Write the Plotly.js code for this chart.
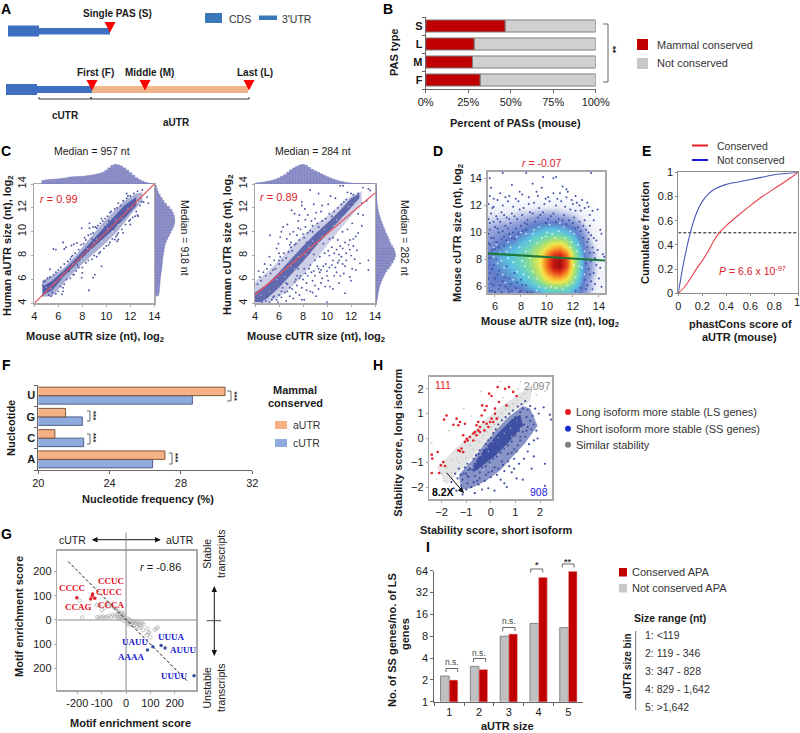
<!DOCTYPE html>
<html>
<head>
<meta charset="utf-8">
<script src="https://cdn.plot.ly/plotly-3.0.1.min.js"></script>
<style>html,body{margin:0;padding:0;background:#fff}#plot{width:800px;height:733px}</style>
</head>
<body>
<div id="plot"></div>
<script>
// B
var pasTypes = ['F', 'M', 'L', 'S'];
var pasConserved = [32, 27.5, 28.5, 46.7];
var pasNotConserved = [68, 72.5, 71.5, 53.3];
var pasTicks = [0, 25, 50, 75, 100];
var pasTickText = ['0%', '25%', '50%', '75%', '100%'];

// C left, aUTR
var aMarginX = [4.75,5,5.25,5.5,5.75,6,6.25,6.5,6.75,7,7.25,7.5,7.75,8,8.25,8.5,8.75,9,9.25,9.5,9.75,10,10.25,10.5,10.75,11,11.25,11.5,11.75,12,12.25,12.5,12.75,13,13.25,13.5,13.75];
var aTopHist = [3.5,4.2,4.5,4.7,5,5.2,5.6,6,6.5,7.2,7.4,7.5,7.6,7.8,8.2,8.6,9,9.6,10.2,11,12,14,16.5,19,20,19.6,18.5,16.5,14,11.5,9,6.5,4.5,3,1.8,1,0.4];
var aRightHist = [3.5,4,4.2,4.5,4.8,5,5.4,5.8,6.2,6.8,7,7.2,7.5,8,8.5,9,9.5,10.2,11.4,13,14.5,16,17.5,19,19.8,20,19.5,18.5,17,14.5,11.5,9,7,5,3.2,2,1];
var aFit = [[4, 4], [14, 14]];
var aBandOuter = [[4.65,5.9],[5.5,6.3],[6.5,7],[7.5,8.1],[8.5,9.3],[9.5,10.5],[10.5,11.6],[11.5,12.6],[12.5,13.2],[13,13.3],[13,12.6],[12,11.4],[11,10.1],[10,9.1],[9,8.2],[8,7.3],[7,6.3],[6,5.2],[5.5,4.6],[4.65,4.55]];
var aBandInner = [[4.7,5.4],[5.5,5.9],[6.5,6.8],[7.5,7.8],[8.5,8.9],[9.5,10],[10.5,11.1],[11.5,12.2],[12.5,12.9],[12.5,12.2],[11.5,11.1],[10.5,10.1],[9.5,9.2],[8.5,8.3],[7.5,7.3],[6.5,6.3],[5.5,5.1],[4.7,4.7]];
var aPoints = [[5.6,8.55],[5.8,8.5],[6.4,9.1],[6.5,8.55],[6.65,8.7],[7.1,8.85],[7.3,8.95],[7.55,9.05],[7.95,10.3],[8.6,10.3],[8.6,10.7],[9.2,10.3],[9.6,7.1],[8.55,5.1],[6.4,5],[6.3,4.75],[7.25,6.4],[8,6.55],[8.9,6.15],[9.05,6.4],[7.95,6.15],[10.7,9.35],[11,9.35],[10.9,9.75],[11.7,13.2],[12.4,11.3],[12.65,11.3],[12.95,12.5],[13.5,12.4],[12,11],[5.3,6.85],
[4.7,4.7],[4.8,5.8],[4.7,5.5],[4.9,5.9],[5.1,6.1],[5.3,6.2],[5.6,6.4],[5.8,6.6],[6,6.8],[6.2,7],[6.5,7.3],[6.8,7.5],[7,7.7],[7.2,8],[7.4,8.2],[7.7,8.5],[7.9,8.9],[8.1,9],[8.3,9.3],[8.5,9.7],[8.7,9.8],[8.9,9.9],[9.1,10.4],[9.3,10.5],[9.5,10.7],[9.7,10.9],[9.9,11.1],[10.1,11.3],[10.4,11.7],[10.7,11.9],[10.9,12],[11.2,12.2],[11.4,12.6],[11.7,12.8],[12,13],[12.3,13.2],[12.6,13.4],[13,13.5],
[5.2,4.7],[5.5,4.9],[5.8,4.8],[6,5],[6.2,5.4],[6.5,5.6],[6.7,6],[7,6.1],[7.3,6.4],[7.5,6.7],[7.7,7],[8,7],[8.3,7.4],[8.5,7.6],[8.8,7.7],[9,8],[9.2,7.9],[9.5,8.3],[9.8,8.6],[10,8.8],[10.3,9.1],[10.5,9.4],[10.8,9.6],[11,9.9],[11.3,10.2],[11.6,10.6],[11.9,10.9],[12.2,11.2],[12.5,11.7],[12.8,12.2],[13.1,12.5],[13.4,12.9],[8.2,8.1],[9.6,9.9],[10.2,10.9],[11.1,11.6],[12.3,12.1],[6.3,6.3],[5.2,5.6],[4.9,5.2],[7.6,7.2],[9.9,10.4],[10.6,10.2],[8.8,9.4],[6.9,6.7],
[9.4,8.2],[10.2,8.9],[10.9,9.2],[11.4,9.9],[12,10.6],[12.6,11.4],[8.9,10.4],[9.6,11.1],[10.3,11.6],[11,12.4],[11.8,13],[5.9,5.9],[5.4,4.6],[6.4,5.3],[7.1,7.9],[8.2,9.5]];
var aWhite = [[5,5.3],[5.4,5.2],[5.7,5.7],[6.3,6.2],[7.2,7.3],[7.9,7.8],[8.7,8.5],[9.2,9.4],[9.6,9.2],[10.1,10.3],[10.5,10],[10.8,11],[11.3,11.1],[11.8,11.9],[12.2,12],[9,9.1],[8.4,8.6],[10.3,9.7],[11,10.6],[12.6,12.5]];

// C right, cUTR
var cMarginX = [4.25,4.5,4.75,5,5.25,5.5,5.75,6,6.25,6.5,6.75,7,7.25,7.5,7.75,8,8.25,8.5,8.75,9,9.25,9.5,9.75,10,10.25,10.5,10.75,11,11.25,11.5,11.75,12,12.25,12.5,12.75,13,13.25,13.5,13.75];
var cTopHist = [1.2,1.5,2,2.6,3.2,4,5,6.2,7.8,9.5,12,14.5,16.5,18,19.5,20,19,17,15,13.5,12,10.5,9,7.5,6.2,5,4,3,2.4,1.8,1.3,0.9,0.6,0.4,0.3,0.2,0.1,0.1,0.1];
var cRightHist = [1,1.5,2,2.5,3.2,4,5,6.2,7.6,9.2,11,13.5,15.5,17.5,19,20,19.5,18.5,17,15,13.5,12.5,11,9.5,8.5,7.2,6,5,4,3,2.2,1.7,1.2,0.9,0.6,0.4,0.3,0.2,0.1];
var cFit = [[4, 4.7], [14, 13.25]];
var cBandOuter = [[4,5.8],[5,6.6],[6,7.6],[7,8.7],[8,9.7],[9,10.6],[10,11.3],[11,12.2],[12,13],[12.9,13.4],[12.9,12.5],[12,11.3],[11,10.1],[10,8.8],[9,7.5],[8,6.3],[7,5.3],[6,4.5],[5,4],[4,4]];
var cBandInner = [[4,4.9],[5,5.6],[6,6.6],[7,7.7],[8,8.8],[9,9.8],[10,10.7],[11,11.7],[12,12.8],[12.7,13.2],[12.7,12.8],[12,12],[11,10.9],[10,9.8],[9,8.7],[8,7.5],[7,6.4],[6,5.3],[5,4.4],[4.5,4.1],[4,4.1]];
var cPoints = [[5.25,9.7],[7.05,11.8],[7.3,11.5],[7.9,12.5],[7.9,12.2],[8.15,11.9],[9,11.1],[9.3,13.2],[8.6,13.5],[11.1,13.85],[11.35,13.85],[13,13.7],[13.45,13.6],[13.6,13.45],[13.45,7.6],[13.45,6.8],[12.5,8.45],[12.75,7.35],[11.5,4.85],[9.85,5.4],[10.25,5.4],[6.35,10.4],[6.2,10],[6.1,9.55],[5.95,9],[5.8,8.6],[6.65,9.4],[7.6,10.9],[8.4,11.4],[8.7,10.9],[9.5,11.7],[10.1,12.3],[11.7,13.3],[7.2,10],[7.5,9.7],[7.8,10.2],[8.2,10.4],[8.8,10.5],[6.9,8.9],[6.4,8.2],[6.1,7.9],[5.6,7.6],[5.3,7.2],[5,6.9],[4.7,6.6],[4.4,6.2],[5.5,6.8],[6,7.3],[6.6,7.8],[7.1,8.4],[7.4,9],[8,9.8],[8.6,10.1],[9.3,10.4],[9.9,11.1],[10.4,11.3],[10.9,12],[11.4,12.5],[12.2,13.1],[12.6,13.2],
[4.6,4.1],[5.2,4.1],[5.8,4.3],[6.2,4.5],[6.6,4.2],[7.2,4.4],[7.7,4.7],[8.1,4.3],[8.6,5],[9.1,4.6],[10,4.1],[6.7,5],[7.1,5.2],[7.5,5.5],[7.9,5.3],[8.3,5.7],[8.8,5.9],[9.3,5.2],[9.6,6.1],[10.1,5.9],[10.6,6.3],[11,5.7],[11.4,6.5],[11.9,6.2],[7.4,6],[7.8,6.3],[8.2,6.5],[8.5,6.9],[8.9,6.7],[9.2,7.1],[9.5,6.8],[9.9,7.3],[10.2,7],[10.5,7.6],[10.9,7.4],[11.2,7.9],[11.6,7.6],[12,8],[12.3,7.7],[9,7.6],[9.4,7.9],[9.8,8.2],[10.1,8.4],[10.4,8.7],[10.8,8.5],[11.1,8.8],[11.5,9.1],[11.9,9.3],[12.4,9.6],[10.9,9.3],[10.5,9.5],[11.3,10],[11.7,10.2],[12.1,10.7],[8.5,8.2],[8.9,8.1],[7.6,6.9],[6.3,5.3],[6.7,5.6],[5.5,4.5],[9.7,9],[10.2,9.4],[12.6,11.5],[13,11.4],[13.3,12.6],[12.9,12.4],[7,9.1],[8.3,9.1],
[4.2,5.6],[4.5,5.9],[4.9,6.3],[5.3,6.5],[5.7,6.9],[6,7.6],[6.3,7.6],[6.8,8.3],[7,8.7],[7.3,8.9],[7.7,9.3],[8.1,9.5],[8.4,9.9],[8.8,10],[9.2,10.7],[9.6,10.9],[10.2,11.5],[10.6,11.7],[11.2,12.3],[11.6,12.7],[12,13.2],
[4.9,4.2],[5.4,4.3],[6,4.7],[6.5,4.9],[6.9,5.3],[7.3,5.8],[7.7,6.1],[8,6],[8.4,6.3],[8.7,6.6],[9,6.3],[9.4,6.6],[9.7,7.1],[10,6.7],[10.4,7.2],[10.7,7],[11,7.6],[11.3,7.3],[11.6,8.2],[11.9,8.5],[12.2,8.8],[10.2,8],[10.6,8.2],[11,8.1],[11.3,8.6],[11.8,8.9],[12.6,9.9],[12.2,9.4],[12.9,10.5],[8.3,5.1],[8.8,4.9],[9.5,5.7],[10.5,5.2],[11.1,6.3],[11.5,7.1],[12.1,6.9],[12.4,6.8],[12,5.9],[9,5.5],[7.4,4.9],[6.9,4.6],[5.9,4.1],[7.9,4.3],[10.8,6.6],[10,6.3],[9.3,6.9],[8.6,7.2],[8.1,6.9],[7.5,6.3],[6.6,5.7],[6.2,5],[5.6,4.6],[5,4.6],
[6,8.2],[5.2,7.9],[4.8,7.3],[4.3,6.7],[6.7,10.6],[6.9,9.8],[7.6,10.3],[8.2,11],[9.1,11.6],[7.7,11.4],[8.9,12.3],[9.6,12.2],[10.7,12.8],[10.3,13]];
var cWhite = [[4.5,4.7],[5.2,5],[5.8,6],[6.5,6.2],[7,7.1],[7.6,7.9],[8.2,8.1],[8.8,9.2],[9.3,9.1],[9.8,10.2],[10.3,10.1],[10.8,11],[11.3,11.2],[11.8,12.1],[12.3,12.4],[6.2,6.6],[7.3,6.9],[8.5,8.7],[9.6,9.6],[10.6,10.5]];

// D
var dGridX = [5.5,6,6.5,7,7.5,8,8.5,9,9.5,10,10.5,11,11.5,12,12.5,13,13.5,14,14.5];
var dGridY = [5.5,6,6.5,7,7.5,8,8.5,9,9.5,10,10.5,11,11.5,12,12.5];
var dDensity = [
[1.5,1.5,1.5,1.5,1.5,1.5,2,2,2.5,3,3,3,3,2.5,2,1.2,0.6,0.3,0.2],
[1.8,1.8,1.8,2,2,2.2,2.6,3,3.6,4.2,4.6,4.6,4.2,3.4,2.4,1.4,0.8,0.4,0.2],
[1.8,2,2,2.2,2.5,2.8,3.2,3.9,4.8,5.8,6.4,6.4,5.8,4.4,2.8,1.6,0.8,0.4,0.3],
[1.8,2,2.2,2.5,2.8,3.2,3.8,4.6,5.6,7,8,8.2,7,5.2,3.2,1.8,1,0.5,0.3],
[2,2.2,2.5,2.8,3.2,3.6,4.2,5,6.2,7.8,9.4,9.8,8.2,5.6,3.4,1.8,1,0.5,0.4],
[2,2.4,2.8,3,3.4,3.8,4.4,5.2,6.2,7.8,9.2,9.6,8.2,5.6,3.4,1.8,1,0.6,0.4],
[1.8,2.4,2.6,2.9,3.2,3.7,4.2,4.9,5.8,7.2,8.4,8.6,7.4,5.2,3.2,1.8,1,0.5,0.3],
[1.6,2,2.2,2.5,2.8,3.2,3.7,4.4,5,5.8,6.6,6.8,5.8,4.2,2.8,1.5,0.8,0.4,0.2],
[1.4,1.6,1.8,2,2.2,2.6,3,3.6,4,4.5,4.9,4.9,4.4,3.4,2.2,1.2,0.6,0.3,0.1],
[1.2,1.4,1.5,1.6,1.8,2,2.4,2.8,3.1,3.4,3.5,3.4,3,2.5,1.6,1,0.5,0.2,0.1],
[1,1.1,1.2,1.2,1.4,1.5,1.8,2,2.3,2.4,2.4,2.3,2,1.7,1.2,0.7,0.4,0.2,0],
[0.8,0.8,0.9,0.9,1,1.1,1.2,1.4,1.5,1.6,1.5,1.4,1.3,1.1,0.8,0.5,0.3,0.1,0],
[0.6,0.6,0.6,0.6,0.7,0.8,0.8,0.9,1,1,1,0.9,0.8,0.7,0.5,0.3,0.2,0,0],
[0.4,0.3,0.3,0.3,0.4,0.4,0.4,0.5,0.5,0.5,0.5,0.5,0.4,0.4,0.3,0.2,0.1,0,0],
[0.1,0.1,0.1,0.1,0.1,0.1,0.1,0.1,0.1,0.1,0.1,0.1,0.1,0.1,0.1,0,0,0,0]];
var dFit = [[5.44, 8.45], [14.49, 7.93]];
var dBluePoints = [[5.6,14],[6.6,14.4],[8.4,14.4],[9.7,14.1],[10.5,14],[10.7,14.1],[13.4,14.4],[5.7,13.3],[7.3,13.5],[8.9,13.6],[9.6,13.3],[11.5,13.2],[11.2,13.4],[11.6,13],[11,12.9],[12.2,12.7],[5.6,12.7],[6.4,12.9],[7.1,12.7],[7.9,13],[8.6,12.6],[9.3,12.7],[10.1,12.6],[10.5,12.9],[11.9,12.4],[12.3,12.2],[12.7,12.4],[13.1,12.2],[13.5,11.6],[5.5,12.1],[5.9,11.9],[6.2,12.4],[6.6,12],[7,12.3],[7.4,11.9],[7.8,12.3],[8.2,11.8],[8.6,12.1],[9,12.2],[9.4,11.8],[9.8,12.1],[10.2,12.3],[10.7,12],[11.1,12.3],[11.4,11.9],[11.8,11.7],[12.2,11.6],[12.6,11.6],[12.9,11.8],[13.3,11.3],[13.9,11.7],[5.7,11.4],[6.1,11.2],[6.5,11.5],[6.9,11.1],[7.3,11.4],[7.7,11],[8.1,11.3],[8.5,10.9],[8.9,11.4],[9.3,11.1],[9.7,11.5],[10.1,11],[10.5,11.4],[10.9,11],[11.3,11.3],[11.7,10.9],[12.1,11.1],[12.5,10.8],[12.9,10.9],[13.3,10.5],[13.6,10.9],[14.1,10.2],[5.6,10.7],[6,10.4],[6.4,10.8],[6.8,10.5],[7.2,10.7],[7.6,10.3],[8,10.5],[8.4,10.2],[12.2,10.3],[12.6,10.1],[13,10.2],[13.4,9.8],[13.8,9.4],[14.2,9.9],[5.5,9.9],[5.9,9.6],[6.3,10],[6.7,9.7],[7.1,9.9],[7.5,9.5],[13.1,9.3],[13.5,8.9],[13.9,8.7],[14.3,8.4],[13.3,8.5],[13.7,8.1],[14.1,7.4],[14.4,8.2],[13.2,7.3],[13.6,7],[14,6.6],[13.4,6.4],[13.1,6.1],[13.7,6.2],[14.2,6],[5.6,9.1],[6,8.8],[5.5,8.4],[5.9,7.6],[6.3,7.2],[5.6,7],[6,6.6],[6.4,6.1],[5.7,6.2],[6.8,6.7],[7.2,6.2],[7,5.8],[7.6,5.9],[8,5.7],[5.8,5.7],[6.5,5.6],[6.9,7.5],[7.5,7],[8,6.5],[8.4,6.1],[8.8,5.6],
[5.5,11],[5.8,11.8],[6.2,11],[6.7,11.3],[7.1,11],[7.5,11.2],[7.9,11.7],[8.3,10.7],[8.7,11.5],[9.1,10.8],[9.5,11.3],[9.9,10.7],[10.3,11.2],[10.7,10.8],[11.2,10.9],[11.5,10.6],[12,10.7],[12.4,10.4],[12.8,10.5],[13.2,10],[13.6,9.6],[5.6,10.2],[5.9,10.8],[6.2,10.3],[6.6,10.1],[7,10.3],[7.4,10],[7.8,9.9],[8.1,10.1],[8.5,10.6],[5.7,9.6],[6.1,9.3],[6.5,9.5],[6.9,9.4],[7.3,9.6],[5.5,9.2],[5.8,8.7],[6.3,8.9],[6.7,9],[5.6,8.1],[6.1,8],[5.8,7.3],[6.2,6.9],[6.6,6.4],[7.1,6.6],[5.5,6.6],[5.9,6.1],[6.3,5.8],[6.8,6],[7.3,5.7],[7.7,6.3],[8.1,6.1],[8.5,5.6],[5.6,5.7],[6,5.6],[7.1,5.6],[7.9,5.6],[12.8,9.6],[13.2,9.5],[13.6,8.5],[13.1,8.9],[13.4,7.9],[13,7.7],[13.8,7.6],[13.3,6.9],[12.9,6.5],[13.5,5.8],[13,5.8],[12.6,5.9],[12.2,5.7],[5.9,12.5],[6.8,12.6],[7.6,12.5],[8.1,12.8],[9.2,13],[9.9,12.5],[10.8,12.5],[11.5,12.6],[12,12.1],[12.5,12],[13.2,11.9]];
var dWhitePoints = [[6.2,7.7],[6.9,8.6],[7.4,7.8],[7.9,8.9],[8.3,7.5],[8.7,9.4],[9,8.3],[9.2,6.6],[9.6,9.6],[10,10],[10.4,9.9],[10.9,10.1],[11.4,9.6],[11.9,9.3],[12.3,8.6],[12.5,7.5],[12.2,6.7],[11.6,6.1],[10.7,5.9],[9.9,5.9],[9.2,5.7],[8.6,6.7],[8.1,7.9],[7.5,8.3],[6.6,6.9],[6.1,9.1],[7,9.3],[7.7,9.7],[8.4,9.9],[9.4,10.4],[11,10.7],[11.8,10.1],[12.7,8.1],[8.9,7.1],[5.9,8.2],[6.7,7.4],[7.2,8.9],[9.5,7.5],[12.1,9.9],[12.9,6.9],
[7.7,7.1],[8.2,6.9],[8.7,8.1],[9.2,9.2],[7,8.1],[6.4,8.5],[5.9,8.9],[6.8,6.3],[7.4,6.5],[8.9,9.9],[9.9,9.7],[10.6,9.6],[11.8,8.9],[12.1,7.6],[12.4,9.1],[11.3,10.4],[10.2,10.6],[9,10.2],[8,10],[7.2,9.7],[6.5,7.9],[8.4,8.6],[9.4,6],[10.3,6],[11.2,5.8],[12,6.3],[12.7,7.4],[12.9,8.6]];

// E
var phastX = [0,0.02,0.05,0.1,0.15,0.2,0.25,0.3,0.4,0.5,0.6,0.7,0.8,0.9,1];
var phastNotConserved = [0,0.12,0.28,0.5,0.66,0.76,0.82,0.86,0.9,0.92,0.94,0.96,0.98,0.99,1];
var phastConservedX = [0,0.05,0.1,0.15,0.2,0.25,0.3,0.34,0.4,0.5,0.6,0.7,0.8,0.9,1];
var phastConserved = [0,0.05,0.12,0.2,0.27,0.35,0.44,0.5,0.56,0.645,0.725,0.8,0.865,0.93,1];
var phastTicks = [0, 0.2, 0.4, 0.6, 0.8, 1];

// F
var nucleotides = ['A', 'C', 'G', 'U'];
var freqAutr = [27.1, 20.93, 21.53, 30.47];
var freqCutr = [26.41, 22.54, 22.47, 28.64];

// G
var gTicksX = [-200, -100, 0, 100, 200];
var gTicksY = [200, 100, 0, -100, -200];
var gTickText = ['200', '100', '0', '100', '200'];
var gFit = [[-237, 241], [256, -257]];
var gRed = [[-202,92],[-145,87],[-137,107],[-139,99],[-128,90]];
var gBlue = [[88,-124],[110,-110],[144,-105],[160,-116],[279,-230]];
var gGray = [[-190,80],[-180,10],[-120,62],[-110,60],[-100,40],[-88,50],[-80,70],[-72,55],[-60,62],[-50,50],[-42,45],[-30,35],[-25,28],[-18,30],[-12,22],[-8,28],[-118,12],[-112,8],[-105,14],[-98,10],[-92,15],[-85,9],[-78,12],[-70,18],[-62,12],[-55,22],[-48,16],[-40,20],[-34,24],[-28,14],[-20,12],[-15,16],[-8,10],[-4,5],[0,2],[4,-2],[6,6],[10,-4],[14,2],[18,-6],[22,-2],[26,-10],[30,-5],[34,-13],[38,-8],[42,-15],[46,-10],[50,-18],[55,-14],[60,-20],[66,-12],[72,-18],[45,-28],[55,-32],[62,-26],[70,-42],[85,-62],[88,-35],[100,-72],[95,-50],[130,-30],[125,-36],[118,-40],[92,-55],[-30,8],[-25,4],[-36,12],[-10,-4],[5,-14],[12,-18],[20,-20],[30,-24]];

// H
var hBlueOuter = [[-1.3,-1.5],[-0.7,-0.85],[-0.3,-0.3],[0.2,0.3],[0.7,0.85],[1.3,1.3],[1.6,1.2],[1.9,0.5],[1.4,-0.2],[0.9,-0.75],[0.4,-1.3],[-0.2,-1.75],[-0.8,-2.05],[-1.2,-2.1]];
var hBlueCore = [[-0.7,-1.05],[-0.25,-0.45],[0.3,0.2],[0.85,0.75],[1.2,0.95],[1.3,0.5],[0.7,-0.2],[0.2,-0.7],[-0.3,-1.1],[-0.7,-1.4]];
var hGrayBand = [[-2.2,-1.2],[-1.3,-0.3],[-0.5,0.5],[0.3,1.2],[1,1.7],[1.7,2.2],[1.6,1.5],[0.9,1.1],[0.3,0.4],[-0.4,-0.4],[-1,-1.1],[-1.8,-1.9]];
var hRed = [[0.28,2.08],[-0.07,1.81],[0.03,1.71],[0.58,2.01],[0.74,2.08],[0.91,1.88],[1.05,1.71],[0.33,1.47],[0.64,1.33],[0.17,1.2],[-0.17,1.3],[-0.35,1.33],[-0.24,1.13],[-0.37,0.92],[0.03,0.79],[0.1,0.65],[-0.03,0.65],[0.24,0.79],[-0.51,0.65],[-0.58,0.52],[-0.17,0.58],[-0.44,0.24],[-0.64,0.24],[-0.71,0.18],[-0.58,0.11],[-0.51,0.31],[-0.26,0.31],[-0.1,0.45],[-1.05,0.58],[-1.39,0.79],[-1.8,0.92],[-1.9,0.75],[-1.25,0.65],[-1.52,0.54],[-1.32,0.52],[-1.12,0.11],[-0.85,0.04],[-0.94,-0.1],[-1.05,-0.16],[-0.71,-0.1],[-1.19,-0.43],[-1.25,-0.54],[-1.12,-0.57],[-1.32,-0.5],[-0.98,-0.03],[-2.16,-0.57],[-2.4,-0.68],[-2.38,-0.84],[-1.93,-0.98],[-1.86,-1.14],[-2.4,-1.43],[-2.1,-1.43],[-2.03,-1.11],[-0.44,0.45],[-0.3,0.65],[0.17,0.99]];
var hBlue = [[1.4,1.5],[1.6,1.3],[1.8,1.2],[1.95,1],[2.15,1.25],[2.4,0.95],[2.45,0.75],[1.7,0.9],[1.5,1.15],[1.3,1.2],[1.2,1.05],[1.45,0.85],[1.6,0.7],[1.75,0.55],[1.65,0.35],[1.85,0.3],[1.5,0.45],[1.35,0.55],[1.3,0.25],[1.4,0.05],[1.2,-0.1],[1.1,-0.3],[1.55,-0.25],[1.75,-0.1],[1.9,-0.02],[1.05,-0.55],[0.85,-0.6],[0.95,-0.85],[0.7,-0.95],[0.75,-1.15],[0.5,-1.1],[0.55,-1.35],[0.3,-1.25],[0.25,-1.5],[0.05,-1.35],[0,-1.6],[-0.2,-1.5],[-0.25,-1.75],[-0.45,-1.65],[-0.5,-1.9],[-0.7,-1.8],[-0.8,-2],[-0.95,-1.85],[-1,-2.1],[-1.2,-1.95],[-1.15,-2.3],[-1.4,-2.15],[-1.5,-2.05],[-1.6,-1.8],[-1.35,-1.65],[-1.45,-1.45],[-1.2,-1.5],[-1.3,-1.25],[-1.05,-1.2],[-0.95,-1.05],[-0.85,-1.25],[-0.7,-0.85],[-0.6,-1.05],[-0.5,-0.65],[-0.4,-0.85],[-0.3,-0.5],[-0.2,-0.25],[-0.1,-0.1],[0,0],[0.1,0.2],[0.2,0.35],[0.3,0.55],[0.45,0.72],[0.6,0.85],[0.75,0.98],[0.9,1.12],[1.1,1.28],[1.25,1.38],[2.2,-1.05],[1.66,-1.25],[2.2,-1.95],[1.3,-1.7],[0.65,-2],[0.55,-1.85],[1.05,-1.65],[0.15,-2.15],[1.75,-0.75],[1.5,-0.55],[1.35,-0.85],[-0.1,-2.05],[-0.65,-2.25],[0.85,-1.4],[0.4,-1.7],[1.15,-1.05],[0.95,-1.25],[-0.35,-2.1],
[-1,-1.45],[-0.9,-1.6],[-0.75,-1.3],[-0.65,-1.55],[-0.55,-1.25],[-0.45,-1.4],[-0.35,-1.2],[-0.3,-0.95],[-0.2,-1.15],[-0.15,-0.8],[-0.05,-1],[0,-0.7],[0.1,-0.85],[0.15,-0.55],[0.25,-0.75],[0.3,-0.4],[0.4,-0.6],[0.45,-0.25],[0.55,-0.45],[0.6,-0.1],[0.7,-0.3],[0.75,0.05],[0.85,-0.15],[0.9,0.25],[1,0.1],[1.05,0.45],[1.15,0.3],[1.2,0.7],[1.3,0.55],[-0.6,-0.7],[-0.45,-0.5],[-0.2,-0.55],[0,-0.3],[0.2,-0.05],[0.4,0.15],[0.6,0.4],[0.8,0.6],[1,0.85],[-0.9,-1.3],[-1.15,-1.7],[-0.95,-1.55],[-0.55,-1.75],[-0.1,-1.4],[0.15,-1.2],[0.45,-0.95],[0.7,-0.65],[0.95,-0.45],[1.2,0.05],[1.45,0.3],[-1.1,-1.45]];
var hWhite = [[-0.6,-1],[-0.4,-0.7],[-0.15,-0.4],[0.05,-0.15],[0.3,0],[0.55,0.2],[0.8,0.4],[1.05,0.7],[-0.3,-1.3],[0,-1.1],[0.3,-0.7],[0.6,-0.45],[0.85,0.05],[1.2,0.4],[-0.8,-1.15],[-0.1,-0.55]];
var hGray = [[-2.2,-1.7],[-2,-1.45],[-1.9,-1.75],[-1.75,-1.2],[-1.6,-1.4],[-1.55,-0.9],[-1.4,-0.85],[-1.3,-1],[-1.15,-0.6],[-1,-0.8],[-0.85,-0.3],[-0.7,-0.45],[-0.6,-0.1],[-0.45,-0.15],[-0.3,0.1],[-0.15,0.25],[0,0.45],[0.15,0.55],[0.3,0.85],[0.45,1],[0.6,1.15],[0.75,1.3],[0.9,1.4],[1.05,1.55],[1.2,1.65],[1.35,1.8],[1.5,1.95],[1.65,2.05],[1.85,1.75],[2,2.1],[2.2,1.9],[-2.4,-0.2],[-1.7,0.3],[-1.1,1.2],[-0.4,1.9],[0.4,2.3],[1.2,2.3],[-0.8,0.9],[0.5,1.65],[1.1,2]];

// I
var sizeBins = ['1', '2', '3', '4', '5'];
var ratioNotConserved = [2.26, 3.07, 8, 12, 10.5];
var ratioConserved = [1.99, 2.79, 8.58, 51.8, 62.7];
var ratioTicks = [1, 2, 4, 8, 16, 32, 64];
var sizeRanges = ['1: <119', '2: 119 - 346', '3: 347 - 828', '4: 829 - 1,642', '5: >1,642'];

var W = 800, H = 733;
var FONT = '"Liberation Sans", Arial, sans-serif';
var DARK = '#1a1a1a';
var RED = '#c00000';

function col(a, i) { return a.map(function (p) { return p[i]; }); }

var layout = {
  width: W, height: H, margin: {l: 0, r: 0, t: 0, b: 0},
  paper_bgcolor: '#fff', plot_bgcolor: 'rgba(0,0,0,0)',
  showlegend: false, barmode: 'overlay',
  font: {family: FONT, size: 11, color: DARK},
  shapes: [], annotations: []
};
var data = [];

// axes are placed in page pixels, left/right/top/bottom
function axes(n, l, r, t, b, xo, yo) {
  var common = {fixedrange: true, zeroline: false, showgrid: false, tickfont: {size: 11, color: DARK}};
  layout['xaxis' + n] = Object.assign({}, common, {domain: [l / W, r / W], anchor: 'y' + n}, xo);
  layout['yaxis' + n] = Object.assign({}, common, {domain: [1 - b / H, 1 - t / H], anchor: 'x' + n}, yo);
}
function add(n, trace) {
  trace.xaxis = 'x' + n; trace.yaxis = 'y' + n; trace.hoverinfo = 'skip'; trace.cliponaxis = true;
  data.push(trace);
}
function dots(n, pts, color, size, op) {
  add(n, {type: 'scatter', mode: 'markers', x: col(pts, 0), y: col(pts, 1), marker: {color: color, size: size, opacity: op === undefined ? 1 : op}});
}
function line(n, pts, color, width, dash) {
  add(n, {type: 'scatter', mode: 'lines', x: col(pts, 0), y: col(pts, 1), line: {color: color, width: width, dash: dash || 'solid'}});
}
function band(n, pts, color) {
  add(n, {type: 'scatter', mode: 'lines', x: col(pts, 0), y: col(pts, 1), fill: 'toself', fillcolor: color, line: {width: 0}});
}
function boxAxis(o) {
  return Object.assign({showline: true, mirror: true, linecolor: '#a8a8a8', linewidth: 1.5, ticks: 'outside', ticklen: 2, tickcolor: '#a8a8a8'}, o);
}

// page-pixel helpers for text and schematic marks
function txt(s, x, y, o) {
  o = o || {};
  layout.annotations.push({
    text: o.bold ? '<b>' + s + '</b>' : s, x: x, y: y, xref: 'x14', yref: 'y14', showarrow: false,
    xanchor: o.anchor || 'center', yanchor: 'middle', textangle: o.angle || 0, borderpad: 0,
    font: {family: o.family || FONT, size: o.size || 11, color: o.color || DARK}
  });
}
function rect(x0, y0, x1, y1, fill, lc) {
  layout.shapes.push({type: 'rect', xref: 'x14', yref: 'y14', x0: x0, y0: y0, x1: x1, y1: y1, fillcolor: fill, line: {width: lc ? 0.8 : 0, color: lc || fill}});
}
function path(d, color, width, fill) {
  layout.shapes.push({type: 'path', xref: 'x14', yref: 'y14', path: d, line: {color: color, width: width === undefined ? 1 : width}, fillcolor: fill || 'rgba(0,0,0,0)'});
}
function tri(x, y) { path('M' + (x - 5.5) + ',' + y + ' L' + (x + 5.5) + ',' + y + ' L' + x + ',' + (y + 10.5) + ' Z', '#ff0000', 0, '#ff0000'); }
function vBracket(x, y0, y1, arm) { path('M' + (x - arm) + ',' + y0 + ' L' + x + ',' + y0 + ' L' + x + ',' + y1 + ' L' + (x - arm) + ',' + y1, '#555', 0.9); }
function hBracket(x0, x1, y, arm) { path('M' + x0 + ',' + (y + arm) + ' L' + x0 + ',' + y + ' L' + x1 + ',' + y + ' L' + x1 + ',' + (y + arm), '#555', 0.9); }
function brace(x0, x1, y) { path('M' + x0 + ',' + (y - 2) + ' L' + x0 + ',' + y + ' L' + x1 + ',' + y + ' L' + x1 + ',' + (y - 2) + ' M' + ((x0 + x1) / 2) + ',' + y + ' v2', '#222', 0.9); }

// panel letters
[['A', 6, 9], ['B', 388, 9], ['C', 6, 151], ['D', 438, 151], ['E', 646, 151], ['F', 6, 365], ['G', 6, 534], ['H', 378, 365], ['I', 428, 547]].forEach(function (p) {
  txt(p[0], p[1], p[2], {bold: true, size: 14, color: '#000'});
});

// --- A schematic
rect(8, 25.5, 39, 36.5, '#3f6fc0');
rect(39, 28, 110, 34.5, '#3f6fc0');
tri(110, 22);
txt('Single PAS (S)', 117, 13, {bold: true, size: 10});
rect(205, 13, 222, 23, '#3a78b8');
txt('CDS', 228, 19, {anchor: 'left', size: 10.5, color: '#333'});
rect(259, 15.5, 277, 20, '#3a78b8');
txt("3'UTR", 281, 19, {anchor: 'left', size: 10.5, color: '#333'});
rect(6, 84, 37, 95, '#3f6fc0');
rect(37, 86, 92, 93, '#3f6fc0');
rect(92, 86, 248, 93, '#f2b48a');
tri(92, 80); tri(145, 80); tri(249, 80);
txt('First (F)', 95, 72, {bold: true, size: 10});
txt('Middle (M)', 149, 72, {bold: true, size: 10});
txt('Last (L)', 255, 72, {bold: true, size: 10});
brace(39, 91, 99); brace(91, 249, 99);
txt('cUTR', 65, 115, {bold: true, size: 10});
txt('aUTR', 176, 122, {bold: true, size: 10});

// --- B
axes(1, 425.7, 595.7, 17, 89,
  {range: [0, 100], tickvals: pasTicks, ticktext: pasTickText, showline: true, linecolor: '#666', ticks: 'outside', ticklen: 3, tickcolor: '#666', tickfont: {size: 11, color: DARK}},
  {type: 'category', categoryarray: pasTypes, categoryorder: 'array', range: [-0.5, 3.5], showline: true, linecolor: '#666', ticks: 'outside', ticklen: 3, tickcolor: '#666', tickson: 'boundaries', tickfont: {size: 11, color: DARK, weight: 700}});
add(1, {type: 'bar', orientation: 'h', y: pasTypes, x: pasNotConserved, base: pasConserved, width: 0.67, offset: -0.335, marker: {color: '#d0d0d0', line: {color: '#7f7f7f', width: 1}}});
add(1, {type: 'bar', orientation: 'h', y: pasTypes, x: pasConserved, width: 0.67, offset: -0.335, marker: {color: RED, line: {color: '#7f7f7f', width: 1}}});
txt('PAS type', 394, 53, {bold: true, angle: -90, size: 11});
txt('Percent of PASs (mouse)', 515.7, 123, {bold: true, size: 11});
path('M603,24 L608,24 L608,82 L603,82', '#555', 0.9);
txt('**', 613, 50, {bold: true, size: 9, angle: 90});
rect(637, 39, 648, 50, RED);
txt('Mammal conserved', 656, 45, {anchor: 'left', size: 11, color: '#333'});
rect(637, 58, 648, 69, '#c8c8c8');
txt('Not conserved', 656, 63, {anchor: 'left', size: 11, color: '#333'});

// --- C left
var cTicks = [4, 6, 8, 10, 12, 14];
var histBar = {color: '#8d90c8', line: {color: '#7478b8', width: 0.5}};
axes(2, 34.3, 154.3, 184, 303.3, boxAxis({range: [4, 14], tickvals: cTicks}), boxAxis({range: [4, 14], tickvals: cTicks, tickangle: -90}));
band(2, aBandOuter, 'rgba(85,95,170,0.5)');
band(2, aBandInner, 'rgba(70,80,160,0.85)');
dots(2, aPoints, '#4a55a5', 1.9);
dots(2, aWhite, '#ffffff', 1.4, 0.6);
line(2, aFit, '#e25560', 1.1);
axes(3, 34.3, 154.3, 164, 184, {range: [4, 14], visible: false}, {range: [0, 20.5], visible: false});
add(3, {type: 'bar', x: aMarginX, y: aTopHist, width: 0.25, marker: histBar});
axes(4, 155.3, 175.3, 184, 303.3, {range: [0, 20.5], visible: false}, {range: [4, 14], visible: false});
add(4, {type: 'bar', orientation: 'h', y: aMarginX, x: aRightHist, width: 0.25, marker: histBar});
txt('Median = 957 nt', 92, 151, {size: 10.5});
txt('Median = 918 nt', 185, 238, {size: 10.5, angle: 90});
txt('<i>r</i> = 0.99', 59, 199, {size: 11, color: '#e0202a'});
txt('Human aUTR size (nt), log<sub>2</sub>', 8, 246, {bold: true, angle: -90, size: 11});
txt('Mouse aUTR size (nt), log<sub>2</sub>', 95, 337, {bold: true, size: 11});

// --- C right
axes(5, 255, 375, 184, 303.3, boxAxis({range: [4, 14], tickvals: cTicks}), boxAxis({range: [4, 14], tickvals: cTicks, tickangle: -90}));
band(5, cBandOuter, 'rgba(85,95,170,0.3)');
band(5, cBandInner, 'rgba(70,80,160,0.8)');
dots(5, cPoints, '#4a55a5', 1.9);
dots(5, cWhite, '#ffffff', 1.4, 0.6);
line(5, cFit, '#e25560', 1.3);
axes(6, 255, 375, 164, 184, {range: [4, 14], visible: false}, {range: [0, 20.5], visible: false});
add(6, {type: 'bar', x: cMarginX, y: cTopHist, width: 0.25, marker: histBar});
axes(7, 376, 396, 184, 303.3, {range: [0, 20.5], visible: false}, {range: [4, 14], visible: false});
add(7, {type: 'bar', orientation: 'h', y: cMarginX, x: cRightHist, width: 0.25, marker: histBar});
txt('Median = 284 nt', 313, 151, {size: 10.5});
txt('Median = 282 nt', 405, 238, {size: 10.5, angle: 90});
txt('<i>r</i> = 0.89', 279, 197, {size: 11, color: '#e0202a'});
txt('Human cUTR size (nt), log<sub>2</sub>', 228, 245, {bold: true, angle: -90, size: 11});
txt('Mouse cUTR size (nt), log<sub>2</sub>', 316, 337, {bold: true, size: 11});

// --- D
axes(8, 487.7, 605.3, 171.7, 293,
  boxAxis({range: [5.44, 14.49], tickvals: [6, 8, 10, 12, 14]}),
  boxAxis({range: [5.53, 14.49], tickvals: [6, 8, 10, 12, 14]}));
add(8, {type: 'heatmap', x: dGridX, y: dGridY, z: dDensity, zmin: 0, zmax: 10, zsmooth: 'best', showscale: false,
  colorscale: [[0, '#ffffff'], [0.06, '#eceef8'], [0.12, '#96a4da'], [0.2, '#5f7ccb'], [0.3, '#5cc2e2'], [0.4, '#74d8b0'], [0.5, '#b0e26c'], [0.6, '#f2e84e'], [0.7, '#f8a82c'], [0.8, '#ee5a20'], [0.9, '#d01c14'], [1, '#8c0c0c']]});
dots(8, dBluePoints, '#3c50a4', 2);
dots(8, dWhitePoints, '#ffffff', 1.8, 0.75);
line(8, dFit, '#1d7a3c', 2.2);
txt('<i>r</i> = -0.07', 542, 163, {size: 10.5, color: '#e0202a'});
txt('Mouse cUTR size (nt), log<sub>2</sub>', 458, 233, {bold: true, angle: -90, size: 11});
txt('Mouse aUTR size (nt), log<sub>2</sub>', 550, 322, {bold: true, size: 11});

// --- E
axes(9, 678.3, 798.3, 172.3, 293.3,
  {range: [0, 1], tickvals: phastTicks, ticktext: ['0', '0.2', '0.4', '0.6', '0.8', ' '], showline: true, mirror: true, linecolor: '#8c8c8c', ticks: 'outside', ticklen: 2, tickcolor: '#8c8c8c'},
  {range: [0, 1], tickvals: phastTicks, ticktext: ['0', '0.2', '0.4', '0.6', '0.8', '1'], showline: true, mirror: true, linecolor: '#8c8c8c', ticks: 'outside', ticklen: 2, tickcolor: '#8c8c8c'});
line(9, [[0, 0.5], [1, 0.5]], '#111', 1, '3px,2px');
add(9, {type: 'scatter', mode: 'lines', x: phastX, y: phastNotConserved, line: {color: '#4a58b8', width: 1.1, shape: 'spline', smoothing: 0.7}});
add(9, {type: 'scatter', mode: 'lines', x: phastConservedX, y: phastConserved, line: {color: '#e8404a', width: 1.1, shape: 'spline', smoothing: 0.7}});
txt('1', 796.5, 302, {size: 11});
path('M692,145.5 L708,145.5', '#ee1c25', 2);
txt('Conserved', 716, 146, {anchor: 'left', size: 10.5, color: '#333'});
path('M692,160 L708,160', '#1a1ae0', 2);
txt('Not conserved', 716, 160, {anchor: 'left', size: 10.5, color: '#333'});
txt('<i>P</i> = 6.6 x 10<sup>-97</sup>', 752, 270, {size: 10.5, color: '#e0202a'});
txt('Cumulative fraction', 645, 233, {bold: true, angle: -90, size: 11});
txt('phastCons score of', 740, 324, {bold: true, size: 11});
txt('aUTR (mouse)', 739, 337, {bold: true, size: 11});

// --- F
axes(10, 38.3, 252.3, 385, 470,
  {range: [20, 32], tickvals: [20, 24, 28, 32], showline: true, linecolor: '#666', ticks: 'outside', ticklen: 3, tickcolor: '#666'},
  {type: 'category', categoryarray: nucleotides, categoryorder: 'array', range: [-0.5, 3.5], showline: true, linecolor: '#666', ticks: 'outside', ticklen: 3, tickcolor: '#666', tickson: 'boundaries', tickfont: {size: 11, color: DARK, weight: 700}});
add(10, {type: 'bar', orientation: 'h', y: nucleotides, x: freqCutr, width: 0.4, offset: -0.4, marker: {color: '#8faadc', line: {color: '#43557f', width: 0.9}}});
add(10, {type: 'bar', orientation: 'h', y: nucleotides, x: freqAutr, width: 0.4, offset: 0, marker: {color: '#f4b183', line: {color: '#6f4a30', width: 0.9}}});
txt('Nucleotide', 11, 428, {bold: true, angle: -90, size: 11});
txt('Nucleotide frequency (%)', 148, 499, {bold: true, size: 11});
vBracket(231, 391, 401, 4); txt('***', 234.5, 396, {bold: true, size: 8, angle: 90});
vBracket(90, 411, 421, 3); txt('***', 94, 416, {bold: true, size: 8, angle: 90});
vBracket(90, 434, 444, 3); txt('***', 94, 438, {bold: true, size: 8, angle: 90});
vBracket(172, 453, 464, 3); txt('***', 176, 458, {bold: true, size: 8, angle: 90});
txt('Mammal', 295, 390, {bold: true, size: 11});
txt('conserved', 295, 403, {bold: true, size: 11});
rect(275, 421, 287, 429, '#f4b183');
txt('aUTR', 292, 425, {anchor: 'left', size: 10.5, color: '#333'});
rect(275, 439, 287, 447, '#8faadc');
txt('cUTR', 292, 443, {anchor: 'left', size: 10.5, color: '#333'});

// --- G
axes(11, 57.3, 196, 550.7, 690,
  boxAxis({range: [-282, 287], tickvals: gTicksX, ticktext: gTicksX.map(String)}),
  boxAxis({range: [-289, 286], tickvals: gTicksY, ticktext: gTickText}));
line(11, [[-282, 0], [287, 0]], '#888', 1);
line(11, [[0, -289], [0, 286]], '#888', 1);
add(11, {type: 'scatter', mode: 'markers', x: col(gGray, 0), y: col(gGray, 1), marker: {symbol: 'circle-open', size: 3.5, color: '#b4b4b4', line: {width: 0.8}}});
line(11, gFit, '#111', 1, '3px,2px');
dots(11, gRed, '#e0202a', 3.5);
dots(11, gBlue, '#3c50a4', 3.5);
var MOTIF = '"Liberation Serif", serif';
[['CCCC', 71.7, 588], ['CCUC', 110.7, 580.7], ['CUCC', 109, 591.7], ['CCAG', 78.7, 607], ['CCCA', 111, 605]].forEach(function (m) {
  txt(m[0], m[1], m[2], {bold: true, size: 9, color: '#e0101a', family: MOTIF});
});
[['UAUU', 134.7, 642], ['UUUA', 171, 636.7], ['AUUU', 182.7, 650], ['AAAA', 131.3, 657], ['UUUU', 173.7, 676]].forEach(function (m) {
  txt(m[0], m[1], m[2], {bold: true, size: 9, color: '#1a1acc', family: MOTIF});
});
txt('<i>r</i> = -0.86', 160, 567.3, {size: 11});
txt('cUTR', 72.7, 539.5, {size: 10.5});
txt('aUTR', 180, 539.5, {size: 10.5});
path('M93,539.7 L160,539.7', '#111', 1);
path('M91.7,539.7 L97.5,537 L97.5,542.4 Z', '#111', 0, '#111');
path('M160.7,539.7 L155,537 L155,542.4 Z', '#111', 0, '#111');
path('M126,532.7 L126,550.7', '#888', 1);
txt('Stable<br>transcripts', 214, 554, {size: 10.5, angle: -90});
txt('Unstable<br>transcripts', 214, 688, {size: 10.5, angle: -90});
path('M214.3,587 L214.3,655', '#111', 1);
path('M214.3,586 L211.6,592 L217,592 Z', '#111', 0, '#111');
path('M214.3,656 L211.6,650 L217,650 Z', '#111', 0, '#111');
path('M206.7,620.7 L221,620.7', '#444', 1);
txt('Motif enrichment score', 19, 617, {bold: true, angle: -90, size: 11});
txt('Motif enrichment score', 130, 723, {bold: true, size: 11});

// --- H
axes(12, 429.3, 552.3, 376.7, 499.3,
  boxAxis({range: [-2.5, 2.5], tickvals: [-2, -1, 0, 1, 2], tickformat: 'd'}),
  boxAxis({range: [-2.5, 2.5], tickvals: [-2, -1, 0, 1, 2], tickformat: 'd'}));
band(12, hGrayBand, 'rgba(205,205,205,0.55)');
dots(12, hGray, '#bdbdbd', 1.6);
band(12, hBlueOuter, 'rgba(58,76,160,0.6)');
band(12, hBlueCore, 'rgba(50,68,155,0.85)');
dots(12, hBlue, '#3c50a4', 2.2);
dots(12, hWhite, '#ffffff', 1.4, 0.6);
dots(12, hRed, '#e0202a', 2.6);
txt('111', 442.7, 385, {size: 10.5, color: '#e0202a'});
txt('2,097', 536.7, 386, {size: 10.5, color: '#888'});
txt('908', 539, 492, {size: 10.5, color: '#1a1ae0'});
txt('8.2X', 443, 492, {bold: true, size: 10.5, color: '#000'});
path('M446.7,472.7 L462,490.6', '#111', 1);
path('M464.3,493.3 L457.8,490.4 L461.8,487 Z', '#111', 0, '#111');
layout.shapes.push({type: 'circle', xref: 'x14', yref: 'y14', x0: 565, x1: 571, y0: 409, y1: 415, fillcolor: '#ee1c25', line: {width: 0}});
layout.shapes.push({type: 'circle', xref: 'x14', yref: 'y14', x0: 565, x1: 571, y0: 425.7, y1: 431.7, fillcolor: '#1a2ad0', line: {width: 0}});
layout.shapes.push({type: 'circle', xref: 'x14', yref: 'y14', x0: 565, x1: 571, y0: 441.7, y1: 447.7, fillcolor: '#808080', line: {width: 0}});
txt('Long isoform more stable (LS genes)', 575, 412, {anchor: 'left', size: 11, color: '#333'});
txt('Short isoform more stable (SS genes)', 575, 428.7, {anchor: 'left', size: 11, color: '#333'});
txt('Similar stability', 575, 444.7, {anchor: 'left', size: 11, color: '#333'});
txt('Stability score, long isoform', 398, 442.7, {bold: true, angle: -90, size: 11});
txt('Stability score, short isoform', 495.7, 530, {bold: true, size: 11});

// --- I
axes(13, 434.3, 583.3, 570.7, 701.7,
  {type: 'category', categoryarray: sizeBins, categoryorder: 'array', range: [-0.5, 4.5], showline: true, linecolor: '#666', linewidth: 1.2, ticks: 'outside', ticklen: 3, tickcolor: '#666', tickson: 'boundaries'},
  {type: 'log', range: [0, Math.log10(64)], tickvals: ratioTicks, ticktext: ratioTicks.map(String), showline: true, linecolor: '#666', ticks: 'outside', ticklen: 3, tickcolor: '#666'});
add(13, {type: 'bar', x: sizeBins, y: ratioNotConserved, width: 0.29, offset: -0.29, marker: {color: '#c0c0c0', line: {color: '#707070', width: 0.8}}});
add(13, {type: 'bar', x: sizeBins, y: ratioConserved, width: 0.29, offset: 0, marker: {color: RED, line: {color: '#f0c0c0', width: 0.6}}});
hBracket(446, 457.7, 668.5, 3.5); txt('n.s.', 452, 662, {size: 8.5, color: '#444'});
hBracket(473.5, 485.7, 658.5, 3.5); txt('n.s.', 479, 652.5, {size: 8.5, color: '#444'});
hBracket(502.7, 515, 627.5, 3.5); txt('n.s.', 509, 621, {size: 8.5, color: '#444'});
hBracket(530.7, 542.7, 569, 3.5); txt('*', 537, 565, {size: 9, bold: true, color: '#444'});
hBracket(562.3, 574, 564, 3.5); txt('**', 568, 562, {size: 9, bold: true, color: '#444'});
txt('No. of SS genes/no. of LS', 392, 640, {bold: true, angle: -90, size: 11});
txt('genes', 405, 634, {bold: true, angle: -90, size: 11});
txt('aUTR size', 507, 726, {bold: true, size: 11});
rect(619, 568, 627, 576.5, RED);
txt('Conserved APA', 631, 572.3, {anchor: 'left', size: 11, color: '#333'});
rect(619, 584, 627, 592.5, '#c8c8c8');
txt('Not conserved APA', 631, 588.3, {anchor: 'left', size: 11, color: '#333'});
txt('Size range (nt)', 670, 618, {bold: true, size: 10.5});
path('M635.7,631 L635.7,710', '#666', 0.9);
txt('aUTR size bin', 627, 666, {bold: true, angle: -90, size: 10});
var sizeRowY = [635.3, 653, 671, 688.7, 706.7];
sizeRanges.forEach(function (s, i) { txt(s, 644.3, sizeRowY[i], {anchor: 'left', size: 10.5, color: '#333'}); });

// page overlay, holds text and schematic marks in pixel units
axes(14, 0, W, 0, H, {range: [0, W], visible: false}, {range: [H, 0], visible: false});
add(14, {type: 'scatter', mode: 'none', x: [0], y: [0]});

Plotly.newPlot('plot', data, layout, {displayModeBar: false, staticPlot: true});
</script>
</body>
</html>
